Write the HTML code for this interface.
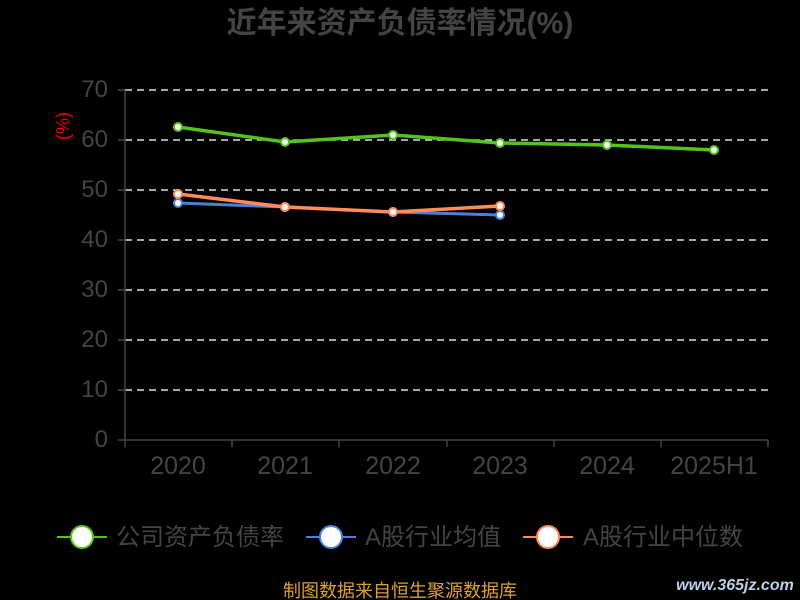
<!DOCTYPE html>
<html><head><meta charset="utf-8"><style>body{margin:0;background:#000;}svg{display:block}</style></head>
<body>
<svg width="800" height="600" xmlns="http://www.w3.org/2000/svg" font-family="Liberation Sans, Noto Sans CJK SC, sans-serif">
<rect width="800" height="600" fill="#000"/>
<text x="400" y="33" text-anchor="middle" font-size="30" font-weight="bold" fill="#444">近年来资产负债率情况(%)</text>
<text x="64" y="126" fill="#e00" font-size="18" transform="rotate(-90 64 126)" text-anchor="middle" dominant-baseline="middle">(%)</text>
<g stroke="#ddd" stroke-width="1.5" stroke-dasharray="7,5">
<line x1="125" y1="90" x2="768" y2="90"/><line x1="125" y1="140" x2="768" y2="140"/><line x1="125" y1="190" x2="768" y2="190"/><line x1="125" y1="240" x2="768" y2="240"/><line x1="125" y1="290" x2="768" y2="290"/><line x1="125" y1="340" x2="768" y2="340"/><line x1="125" y1="390" x2="768" y2="390"/>
</g>
<g stroke="#444" stroke-width="1.5">
<line x1="125" y1="90" x2="125" y2="440"/><line x1="125" y1="440" x2="768" y2="440"/>
<line x1="118" y1="90" x2="125" y2="90"/><line x1="118" y1="140" x2="125" y2="140"/><line x1="118" y1="190" x2="125" y2="190"/><line x1="118" y1="240" x2="125" y2="240"/><line x1="118" y1="290" x2="125" y2="290"/><line x1="118" y1="340" x2="125" y2="340"/><line x1="118" y1="390" x2="125" y2="390"/><line x1="118" y1="440" x2="125" y2="440"/>
<line x1="125" y1="440" x2="125" y2="447"/><line x1="232" y1="440" x2="232" y2="447"/><line x1="339" y1="440" x2="339" y2="447"/><line x1="447" y1="440" x2="447" y2="447"/><line x1="554" y1="440" x2="554" y2="447"/><line x1="661" y1="440" x2="661" y2="447"/><line x1="768" y1="440" x2="768" y2="447"/>
</g>
<g fill="#444" font-size="24" text-anchor="end">
<text x="108" y="97">70</text><text x="108" y="147">60</text><text x="108" y="197">50</text><text x="108" y="247">40</text><text x="108" y="297">30</text><text x="108" y="347">20</text><text x="108" y="397">10</text><text x="108" y="447">0</text>
</g>
<g fill="#444" font-size="25" text-anchor="middle">
<text x="178" y="474">2020</text><text x="285" y="474">2021</text><text x="393" y="474">2022</text><text x="500" y="474">2023</text><text x="607" y="474">2024</text><text x="714" y="474">2025H1</text>
</g>
<polyline points="178,127 285,142 393,135 500,143 607,145 714,150" fill="none" stroke="#52c41a" stroke-width="3.5"/>
<polyline points="178,203 285,207 393,212 500,215" fill="none" stroke="#4a80e0" stroke-width="3"/>
<polyline points="178,194 285,207 393,212 500,206" fill="none" stroke="#ff8c5a" stroke-width="3.5"/>
<g fill="#fff" stroke="#52c41a" stroke-width="2"><circle cx="178" cy="127" r="4"/><circle cx="285" cy="142" r="4"/><circle cx="393" cy="135" r="4"/><circle cx="500" cy="143" r="4"/><circle cx="607" cy="145" r="4"/><circle cx="714" cy="150" r="4"/></g>
<g fill="#fff" stroke="#4a80e0" stroke-width="2"><circle cx="178" cy="203" r="4"/><circle cx="285" cy="207" r="4"/><circle cx="393" cy="212" r="4"/><circle cx="500" cy="215" r="4"/></g>
<g fill="#fff" stroke="#ff8c5a" stroke-width="2"><circle cx="178" cy="194" r="4"/><circle cx="285" cy="207" r="4"/><circle cx="393" cy="212" r="4"/><circle cx="500" cy="206" r="4"/></g>
<g font-size="24" fill="#444">
<line x1="57" y1="537" x2="107" y2="537" stroke="#52c41a" stroke-width="2"/><circle cx="82" cy="537" r="11" fill="#fff" stroke="#52c41a" stroke-width="2"/><text x="116" y="545">公司资产负债率</text>
<line x1="306" y1="537" x2="356" y2="537" stroke="#4a80e0" stroke-width="2"/><circle cx="331" cy="537" r="11" fill="#fff" stroke="#4a80e0" stroke-width="2"/><text x="365" y="545">A股行业均值</text>
<line x1="523" y1="537" x2="573" y2="537" stroke="#ff8c5a" stroke-width="2"/><circle cx="548" cy="537" r="11" fill="#fff" stroke="#ff8c5a" stroke-width="2"/><text x="583" y="545">A股行业中位数</text>
</g>
<text x="400" y="597" text-anchor="middle" font-size="18" fill="#e0a030">制图数据来自恒生聚源数据库</text>
<text x="735" y="590" text-anchor="middle" font-size="16" font-weight="bold" font-style="italic" fill="#b8d0e8">www.365jz.com</text>
</svg>
</body></html>
